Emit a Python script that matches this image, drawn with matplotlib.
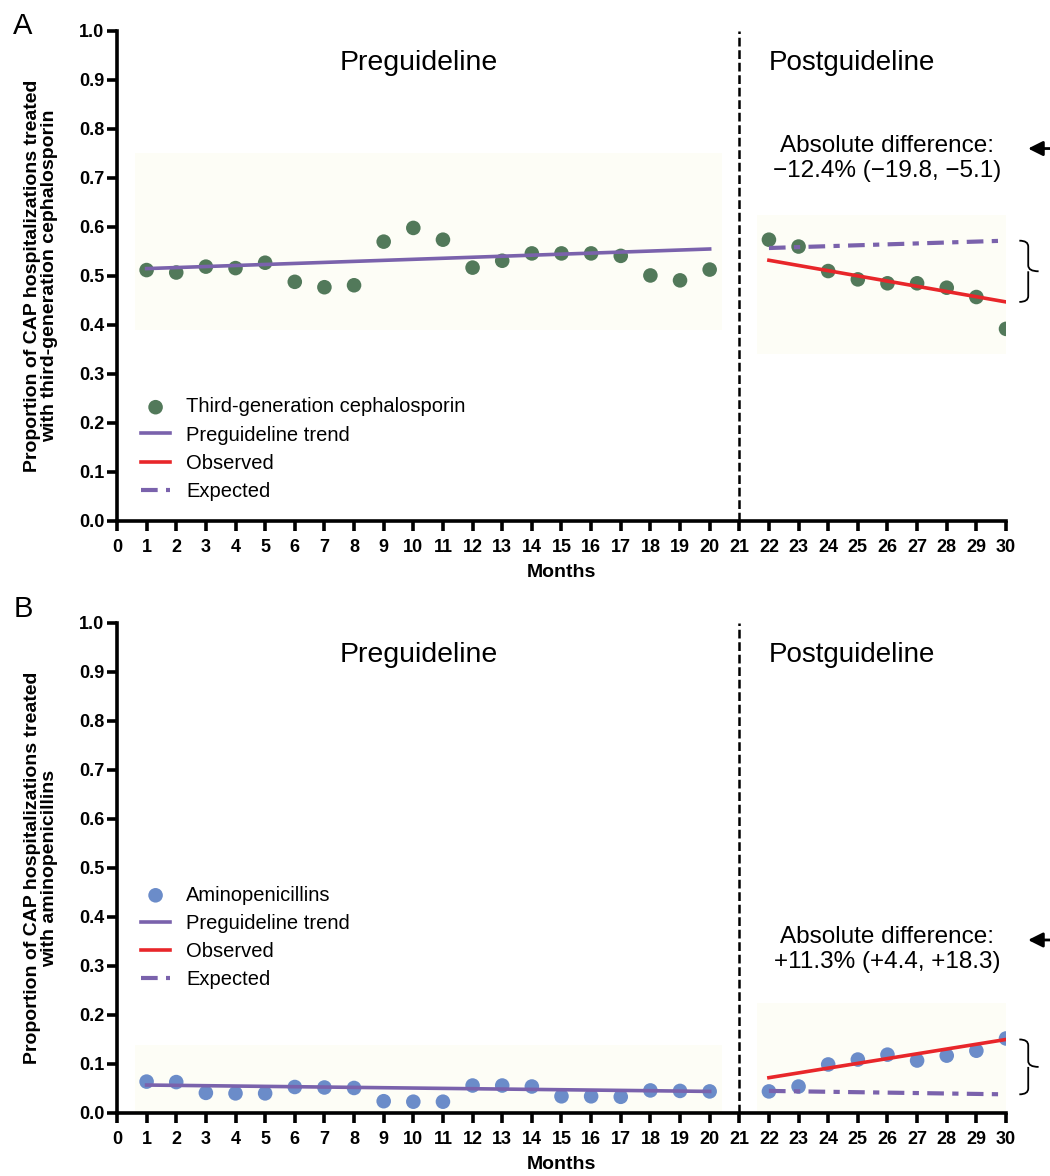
import matplotlib
matplotlib.use("Agg")
import matplotlib.pyplot as plt
from matplotlib.patches import Rectangle, PathPatch
from matplotlib.path import Path
import numpy as np

plt.rcParams['font.family'] = ['Liberation Sans', 'DejaVu Sans']

# months
pre_months = list(range(1, 21))
post_months = list(range(22, 31))

# panel A: third-generation cephalosporin
ceph_pre = [0.512, 0.507, 0.519, 0.516, 0.527, 0.488, 0.477, 0.481, 0.570, 0.598,
            0.574, 0.517, 0.531, 0.546, 0.546, 0.546, 0.541, 0.501, 0.491, 0.513]
ceph_post = [0.574, 0.560, 0.510, 0.493, 0.485, 0.485, 0.476, 0.457, 0.392]
ceph_trend = [0.515, 0.555]      # at months 1 and 20
ceph_expected = [0.557, 0.572]   # at months 22 and 30
ceph_observed = [0.532, 0.447]   # at months 22 and 30

# panel B: aminopenicillins
amino_pre = [0.064, 0.063, 0.041, 0.040, 0.040, 0.053, 0.052, 0.051, 0.024, 0.023,
             0.023, 0.056, 0.056, 0.054, 0.034, 0.034, 0.033, 0.046, 0.045, 0.044]
amino_post = [0.044, 0.054, 0.099, 0.109, 0.119, 0.107, 0.117, 0.127, 0.152]
amino_trend = [0.057, 0.044]
amino_expected = [0.045, 0.038]
amino_observed = [0.072, 0.150]

purple = '#7a62ac'
red = '#e8262a'
shade = '#fdfdf6'


def brace(ax, x, y0, y1, w=0.5):
    # right curly brace between y0 and y1 at data x
    ym = (y0 + y1) / 2
    top, bot = max(y0, y1), min(y0, y1)
    c = 0.012
    verts = [(x, top), (x + w * 0.6, top), (x + w * 0.6, top - c),
             (x + w * 0.6, ym + c), (x + w * 0.6, ym), (x + w * 1.3, ym),
             (x + w * 0.6, ym), (x + w * 0.6, ym - c),
             (x + w * 0.6, bot + c), (x + w * 0.6, bot), (x, bot)]
    codes = [Path.MOVETO, Path.CURVE3, Path.CURVE3, Path.LINETO, Path.CURVE3, Path.CURVE3,
             Path.MOVETO, Path.CURVE3, Path.LINETO, Path.CURVE3, Path.CURVE3]
    ax.add_patch(PathPatch(Path(verts, codes), fill=False, lw=1.3, color='black', clip_on=False))


def panel(ax, letter, pre, post, trend, expected, observed, color, label, ylabel,
          pre_box, post_box, text, text_y, leg_y):
    ax.add_patch(Rectangle((pre_box[0], pre_box[1]), pre_box[2], pre_box[3],
                           facecolor=shade, edgecolor='none', zorder=0))
    ax.add_patch(Rectangle((post_box[0], post_box[1]), post_box[2], post_box[3],
                           facecolor=shade, edgecolor='none', zorder=0))
    ax.scatter(pre_months, pre, s=110, color=color, zorder=3, label=label, edgecolors='none')
    ax.scatter(post_months, post, s=110, color=color, zorder=3, edgecolors='none')
    ax.plot([1, 20], trend, color=purple, lw=2.6, zorder=4, label='Preguideline trend')
    ax.plot([22, 30], observed, color=red, lw=2.6, zorder=4, label='Observed')
    ax.plot([22, 30], expected, color=purple, lw=3, ls=(0, (4, 2, 1.5, 2)), zorder=4,
            label='Expected')
    ax.plot([21, 21], [0, 1.0], color='black', lw=1.8, ls=(0, (3.5, 1.5)), clip_on=False)

    ax.set_xlim(0, 30)
    ax.set_ylim(0, 1.0)
    ax.set_xticks(range(0, 31))
    ax.set_yticks(np.arange(0, 1.01, 0.1))
    ax.set_yticklabels([f'{v:.1f}' for v in np.arange(0, 1.01, 0.1)])
    for s in ['top', 'right']:
        ax.spines[s].set_visible(False)
    for s in ['left', 'bottom']:
        ax.spines[s].set_linewidth(2.6)
    ax.tick_params(width=2.6, length=7, labelsize=13)
    ax.tick_params(axis='x', pad=6)
    ax.tick_params(axis='y', pad=2)
    for t in ax.get_xticklabels() + ax.get_yticklabels():
        t.set_fontweight('bold')
    ax.set_xlabel('Months', fontsize=14, fontweight='bold', labelpad=6)
    ax.set_ylabel(ylabel, fontsize=14, fontweight='bold', labelpad=15, linespacing=1.05)

    ax.text(10.2, 0.935, 'Preguideline', fontsize=20.5, ha='center', va='center')
    ax.text(22.0, 0.935, 'Postguideline', fontsize=20, ha='left', va='center')
    ax.text(26.0, text_y, text, fontsize=17.5, ha='center', va='center', linespacing=1.2)
    ax.annotate('', xy=(30.65, text_y + 0.02), xytext=(32.5, text_y + 0.02),
                arrowprops=dict(arrowstyle='-|>', color='black', lw=2,
                                mutation_scale=22), annotation_clip=False)
    brace(ax, 30.45, expected[1], observed[1], w=0.5)

    ax.legend(loc='upper left', bbox_to_anchor=(0.027, leg_y), frameon=False, fontsize=14.5,
              handlelength=1.45, handletextpad=0.8, labelspacing=0.45, borderaxespad=0,
              borderpad=0, scatterpoints=1)


fig = plt.figure(figsize=(10.5, 11.76), dpi=100)
axA = fig.add_axes([0.1114, 0.557, 0.8467, 0.4167])
axB = fig.add_axes([0.1114, 0.0536, 0.8467, 0.4167])

panel(axA, 'A', ceph_pre, ceph_post, ceph_trend, ceph_expected, ceph_observed, '#52795a',
      'Third-generation cephalosporin',
      'Proportion of CAP hospitalizations treated\nwith third-generation cephalosporin',
      (0.6, 0.39, 19.8, 0.36), (21.6, 0.34, 8.8, 0.285),
      'Absolute difference:\n\u221212.4% (\u221219.8, \u22125.1)', 0.74, 0.252)
panel(axB, 'B', amino_pre, amino_post, amino_trend, amino_expected, amino_observed, '#6b8cc9',
      'Aminopenicillins',
      'Proportion of CAP hospitalizations treated\nwith aminopenicillins',
      (0.6, 0.0, 19.8, 0.139), (21.6, 0.0, 8.8, 0.224),
      'Absolute difference:\n+11.3% (+4.4, +18.3)', 0.333, 0.464)

fig.text(0.022, 0.978, 'A', fontsize=21, ha='center', va='center')
fig.text(0.022, 0.482, 'B', fontsize=21, ha='center', va='center')

fig.savefig('out.png', dpi=100)
